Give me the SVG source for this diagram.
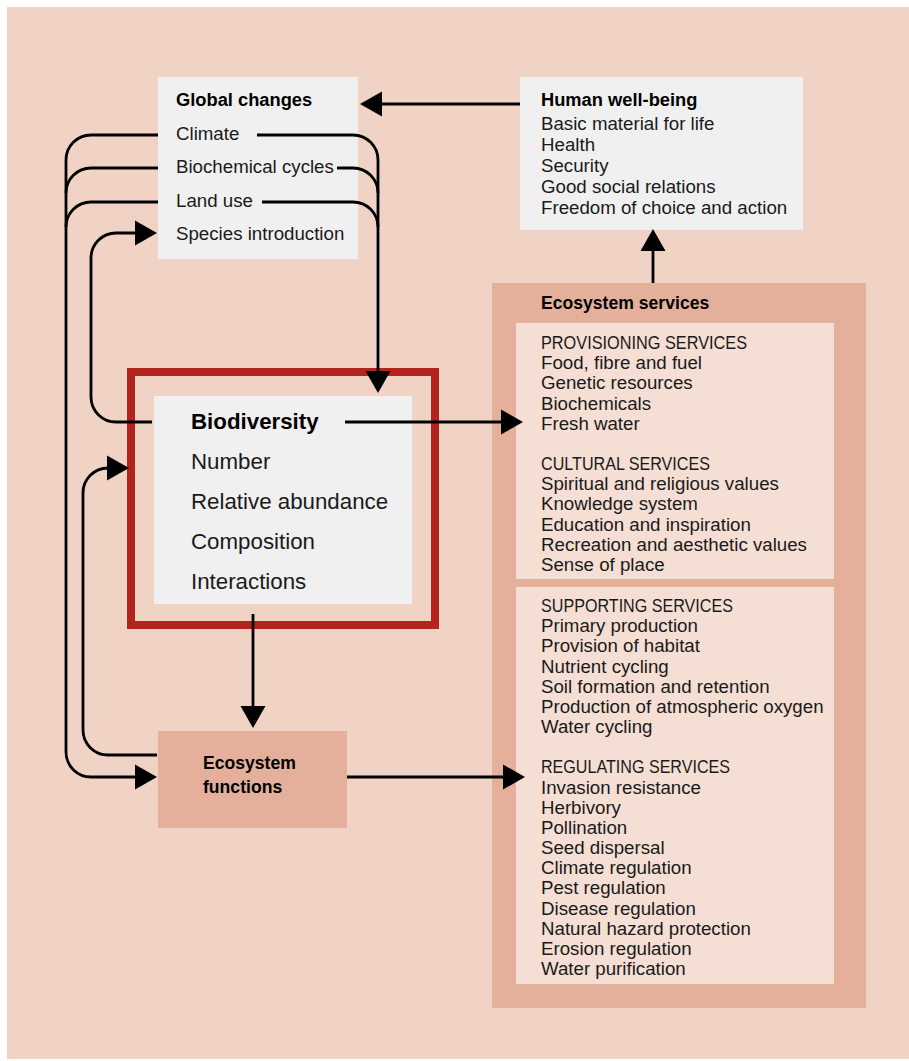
<svg xmlns="http://www.w3.org/2000/svg" width="909" height="1061" viewBox="0 0 909 1061">
<style>
text{font-family:"Liberation Sans",Arial,sans-serif;fill:#1a1a1a}
.b{font-weight:bold;fill:#000}
.t{font-size:18.7px}
.h{font-size:18.3px}
.e{font-size:17.6px}
.bd{font-size:22.3px}
.lite{fill:#f0f0f0}
.dark{fill:#e4b09b}
.svc{fill:#f5ded3}
.c{fill:none;stroke:#000;stroke-width:2.8}
</style>
<defs>
<marker id="ah" markerUnits="userSpaceOnUse" markerWidth="22" markerHeight="25" refX="19" refY="12.5" orient="auto" overflow="visible">
<path d="M0,0 L22,12.5 L0,25 z" fill="#000"/>
</marker>
</defs>
<rect x="0" y="0" width="909" height="1061" fill="#ffffff"/>
<rect x="7" y="7" width="902" height="1052" fill="#f1d3c6"/>

<g id="global-changes">
<rect class="lite" x="158" y="77" width="200" height="182"/>
<text class="b h" x="176" y="106">Global changes</text>
<text class="t" x="176" y="140">Climate</text>
<text class="t" x="176" y="173">Biochemical cycles</text>
<text class="t" x="176" y="207">Land use</text>
<text class="t" x="176" y="240">Species introduction</text>
</g>

<g id="human-well-being">
<rect class="lite" x="520" y="77" width="283" height="153"/>
<text class="b h" x="541" y="106">Human well-being</text>
<text class="t" x="541" y="130">Basic material for life</text>
<text class="t" x="541" y="151">Health</text>
<text class="t" x="541" y="172">Security</text>
<text class="t" x="541" y="193">Good social relations</text>
<text class="t" x="541" y="214">Freedom of choice and action</text>
</g>

<g id="biodiversity">
<rect x="131" y="372" width="304" height="253" fill="none" stroke="#b3241c" stroke-width="8"/>
<rect class="lite" x="154" y="396" width="258" height="208"/>
<text class="b bd" x="191" y="429">Biodiversity</text>
<text class="bd" x="191" y="469">Number</text>
<text class="bd" x="191" y="509">Relative abundance</text>
<text class="bd" x="191" y="549">Composition</text>
<text class="bd" x="191" y="589">Interactions</text>
</g>

<g id="ecosystem-functions">
<rect class="dark" x="158" y="731" width="189" height="97"/>
<text class="b e" x="203" y="769">Ecosystem</text>
<text class="b e" x="203" y="793">functions</text>
</g>

<g id="ecosystem-services">
<rect class="dark" x="492" y="283" width="374" height="725"/>
<text class="b e" x="541" y="309">Ecosystem services</text>
<rect class="svc" x="516" y="323" width="318" height="256"/>
<rect class="svc" x="516" y="587" width="318" height="397"/>
<g class="t">
<text x="541" y="349" textLength="206" lengthAdjust="spacingAndGlyphs">PROVISIONING SERVICES</text>
<text x="541" y="369.2">Food, fibre and fuel</text>
<text x="541" y="389.4">Genetic resources</text>
<text x="541" y="409.5">Biochemicals</text>
<text x="541" y="429.7">Fresh water</text>
<text x="541" y="470.1" textLength="169" lengthAdjust="spacingAndGlyphs">CULTURAL SERVICES</text>
<text x="541" y="490.2">Spiritual and religious values</text>
<text x="541" y="510.4">Knowledge system</text>
<text x="541" y="530.6">Education and inspiration</text>
<text x="541" y="550.8">Recreation and aesthetic values</text>
<text x="541" y="571">Sense of place</text>
<text x="541" y="612" textLength="192" lengthAdjust="spacingAndGlyphs">SUPPORTING SERVICES</text>
<text x="541" y="632.2">Primary production</text>
<text x="541" y="652.3">Provision of habitat</text>
<text x="541" y="672.5">Nutrient cycling</text>
<text x="541" y="692.7">Soil formation and retention</text>
<text x="541" y="712.9">Production of atmospheric oxygen</text>
<text x="541" y="733">Water cycling</text>
<text x="541" y="773.4" textLength="189" lengthAdjust="spacingAndGlyphs">REGULATING SERVICES</text>
<text x="541" y="793.5">Invasion resistance</text>
<text x="541" y="813.7">Herbivory</text>
<text x="541" y="833.9">Pollination</text>
<text x="541" y="854">Seed dispersal</text>
<text x="541" y="874.2">Climate regulation</text>
<text x="541" y="894.4">Pest regulation</text>
<text x="541" y="914.6">Disease regulation</text>
<text x="541" y="934.7">Natural hazard protection</text>
<text x="541" y="954.9">Erosion regulation</text>
<text x="541" y="975">Water purification</text>
</g>
</g>

<g id="connectors" class="c">
<path class="c" d="M520,104 H363" marker-end="url(#ah)"/>
<path class="c" d="M653,283 V232" marker-end="url(#ah)"/>
<path class="c" d="M257,135 H353 A25,25 0 0 1 378,160 V390" marker-end="url(#ah)"/>
<path class="c" d="M337,168 H353 A25,25 0 0 1 378,193"/>
<path class="c" d="M262,202 H353 A25,25 0 0 1 378,227"/>
<path class="c" d="M158,135 H91 A25,25 0 0 0 66,160 V752 A25,25 0 0 0 91,777 H154" marker-end="url(#ah)"/>
<path class="c" d="M158,168 H91 A25,25 0 0 0 66,193"/>
<path class="c" d="M158,202 H91 A25,25 0 0 0 66,227"/>
<path class="c" d="M152,422 H116 A25,25 0 0 1 91,397 V258 A25,25 0 0 1 116,233 H154" marker-end="url(#ah)"/>
<path class="c" d="M157,755 H108 A25,25 0 0 1 83,730 V493 A25,25 0 0 1 108,468 H126" marker-end="url(#ah)"/>
<path class="c" d="M345,422 H520" marker-end="url(#ah)"/>
<path class="c" d="M253,614 V725" marker-end="url(#ah)"/>
<path class="c" d="M347,777 H522" marker-end="url(#ah)"/>
</g>
</svg>
